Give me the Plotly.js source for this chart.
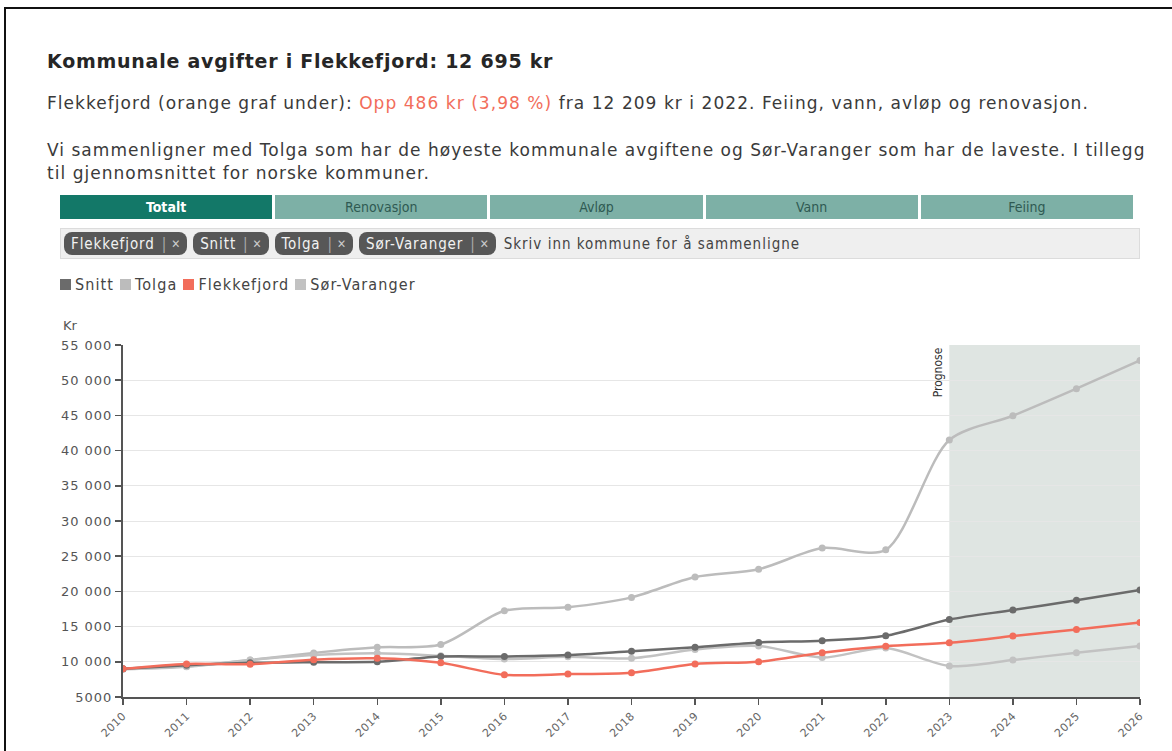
<!DOCTYPE html>
<html>
<head>
<meta charset="utf-8">
<script src="https://cdn.plot.ly/plotly-3.0.1.min.js"></script>
<style>
  html,body{margin:0;padding:0;}
  body{width:1172px;height:751px;overflow:hidden;background:#fff;position:relative;font-family:"DejaVu Sans","Open Sans",sans-serif;color:#333;}
  .frame{position:absolute;left:4px;top:7px;width:1172px;height:750px;border-left:2px solid #111;border-top:2px solid #111;box-sizing:border-box;}
  #title{position:absolute;left:47px;top:50px;font-size:19px;letter-spacing:0.75px;font-weight:bold;color:#262626;white-space:nowrap;}
  #sub{position:absolute;left:47px;top:93px;font-size:17px;letter-spacing:1.05px;color:#3a3a3a;white-space:nowrap;}
  #sub .hl{color:#f26d5b;}
  #para{position:absolute;left:47px;top:139px;font-size:17px;letter-spacing:1.03px;line-height:23px;color:#3a3a3a;white-space:nowrap;}
  .narrow{font-family:"Liberation Sans Narrow","DejaVu Sans Condensed","Roboto Condensed",sans-serif;font-stretch:condensed;}
  #tabs{position:absolute;left:60px;top:195px;width:1073px;height:24px;display:flex;gap:3px;}
  #tabs div{flex:1;display:flex;align-items:center;justify-content:center;font-size:14px;background:#7db0a6;color:#2f5a52;}
  #tabs div.active{background:#137868;color:#fff;font-weight:bold;}
  #filter{position:absolute;left:60px;top:228px;width:1080px;height:31px;background:#efefef;border:1px solid #dcdcdc;box-sizing:border-box;display:flex;align-items:center;padding-left:3px;}
  .chip{background:#575757;color:#f2f2f2;border-radius:8px;height:23px;display:flex;align-items:center;padding:0 6px 0 7px;margin-right:6px;font-size:15px;letter-spacing:0.9px;}
  .chip .sep{color:#aaa;margin:0 4px 0 7px;font-weight:normal;}
  .chip .x{color:#ccc;font-size:12px;}
  #filter .ph{font-size:15px;letter-spacing:1px;color:#444;margin-left:2px;}
  #legend{position:absolute;left:60px;top:275px;display:flex;align-items:center;font-size:16px;letter-spacing:1.1px;color:#444;}
  #legend .it{display:flex;align-items:center;margin-right:6px;}
  #legend .sw{width:11px;height:11px;margin-right:4px;}
  #chart{position:absolute;left:0;top:300px;width:1172px;height:451px;}
  #chart .ytick text{letter-spacing:1px;}
  #chart .xtick text{letter-spacing:0.5px;}
</style>
</head>
<body>
<div class="frame"></div>
<div id="title">Kommunale avgifter i Flekkefjord: 12 695 kr</div>
<div id="sub">Flekkefjord (orange graf under): <span class="hl">Opp 486 kr (3,98 %)</span> fra 12 209 kr i 2022. Feiing, vann, avløp og renovasjon.</div>
<div id="para">Vi sammenligner med Tolga som har de høyeste kommunale avgiftene og Sør-Varanger som har de laveste. I tillegg<br>til gjennomsnittet for norske kommuner.</div>
<div id="tabs" class="narrow"></div>
<div id="filter" class="narrow"></div>
<div id="legend" class="narrow"></div>
<div id="chart"></div>
<script>
// ---- data ----
const tabs = ["Totalt", "Renovasjon", "Avløp", "Vann", "Feiing"];
const chips = ["Flekkefjord", "Snitt", "Tolga", "Sør-Varanger"];
const years = [2010, 2011, 2012, 2013, 2014, 2015, 2016, 2017, 2018, 2019, 2020, 2021, 2022, 2023, 2024, 2025, 2026];
const snitt =       [9000, 9500, 9850, 9950, 10000, 10750, 10750, 10950, 11500, 12050, 12750, 13000, 13700, 16000, 17350, 18750, 20200];
const tolga =       [9000, 9350, 10250, 11250, 12050, 12450, 17250, 17750, 19150, 22050, 23150, 26150, 25900, 41500, 44950, 48800, 52800];
const flekkefjord = [9000, 9700, 9650, 10300, 10500, 9850, 8150, 8250, 8450, 9700, 10000, 11300, 12209, 12695, 13650, 14600, 15600];
const sorVaranger = [8950, 9300, 10250, 10950, 11200, 10850, 10400, 10700, 10500, 11750, 12250, 10600, 11950, 9400, 10250, 11300, 12250];
const legendNames = ["Snitt", "Tolga", "Flekkefjord", "Sør-Varanger"];
const yTickVals = [5000, 10000, 15000, 20000, 25000, 30000, 35000, 40000, 45000, 50000, 55000];
const yTickText = ["5000", "10 000", "15 000", "20 000", "25 000", "30 000", "35 000", "40 000", "45 000", "50 000", "55 000"];
const forecastStart = 2023;
const forecastEnd = 2026;
const forecastLabel = "Prognose";
const yUnit = "Kr";
const placeholder = "Skriv inn kommune for å sammenligne";

// ---- styles ----
const colors = {"Snitt": "#6b6b6b", "Tolga": "#bcbcbc", "Flekkefjord": "#f26d5b", "Sør-Varanger": "#c2c2c2"};

// ---- HTML widgets ----
const tabsEl = document.getElementById('tabs');
tabs.forEach((t, i) => {
  const d = document.createElement('div');
  d.textContent = t;
  if (i === 0) d.className = 'active';
  tabsEl.appendChild(d);
});
const filterEl = document.getElementById('filter');
chips.forEach(c => {
  const d = document.createElement('div');
  d.className = 'chip';
  d.innerHTML = '<span>' + c + '</span><span class="sep">|</span><span class="x">✕</span>';
  filterEl.appendChild(d);
});
const ph = document.createElement('span');
ph.className = 'ph';
ph.textContent = placeholder;
filterEl.appendChild(ph);
const legEl = document.getElementById('legend');
legendNames.forEach(n => {
  const d = document.createElement('div');
  d.className = 'it';
  d.innerHTML = '<span class="sw" style="background:' + colors[n] + '"></span><span>' + n + '</span>';
  legEl.appendChild(d);
});

// ---- chart ----
function tr(name, ys) {
  return {
    x: years, y: ys, name: name, type: 'scatter', mode: 'lines+markers',
    line: {color: colors[name], width: 2.5, shape: 'spline', smoothing: 0.8},
    marker: {color: colors[name], size: 7},
    hoverinfo: 'x+y+name'
  };
}
const data = [
  tr("Tolga", tolga),
  tr("Sør-Varanger", sorVaranger),
  tr("Snitt", snitt),
  tr("Flekkefjord", flekkefjord)
];
const layout = {
  width: 1172, height: 451,
  margin: {l: 123, r: 32, t: 45, b: 54},
  paper_bgcolor: 'rgba(0,0,0,0)',
  plot_bgcolor: 'rgba(0,0,0,0)',
  showlegend: false,
  font: {family: '"DejaVu Sans",sans-serif', color: '#555'},
  xaxis: {
    range: [years[0], years[years.length - 1]],
    tickvals: years, ticktext: years.map(String),
    tickangle: -45, showgrid: false, zeroline: false,
    showline: true, linecolor: '#555', linewidth: 2,
    ticks: 'outside', ticklen: 6, tickcolor: '#555', tickwidth: 1.5,
    tickfont: {size: 11, color: '#666'}
  },
  yaxis: {
    range: [yTickVals[0], yTickVals[yTickVals.length - 1]],
    tickvals: yTickVals, ticktext: yTickText,
    showgrid: true, gridcolor: '#e6e6e6', gridwidth: 1, zeroline: false,
    showline: true, linecolor: '#555', linewidth: 2,
    ticks: 'outside', ticklen: 6, tickcolor: '#555', tickwidth: 1.5,
    tickfont: {size: 13, color: '#555'}
  },
  shapes: [{
    type: 'rect', xref: 'x', yref: 'paper', x0: forecastStart, x1: forecastEnd, y0: 0, y1: 1,
    fillcolor: '#dfe5e2', line: {width: 0}, layer: 'below'
  }],
  annotations: [
    {text: forecastLabel, x: forecastStart, xref: 'x', xanchor: 'right', xshift: -2,
     y: 1, yref: 'paper', yanchor: 'top', yshift: 0, textangle: -90, showarrow: false,
     font: {family: '"Liberation Sans Narrow","DejaVu Sans Condensed",sans-serif', size: 12, color: '#333'}},
    {text: yUnit, x: 0, xref: 'paper', xanchor: 'left', xshift: -62,
     y: 1, yref: 'paper', yanchor: 'bottom', yshift: 10, showarrow: false,
     font: {size: 13, color: '#555'}}
  ]
};
Plotly.newPlot('chart', data, layout, {displayModeBar: false, staticPlot: true});
</script>
</body>
</html>
